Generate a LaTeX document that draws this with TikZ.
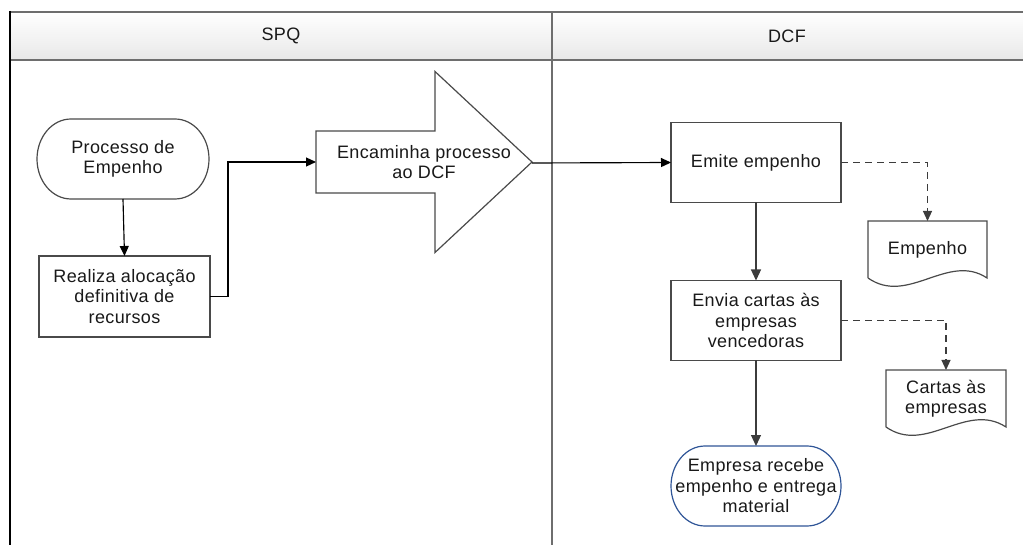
\documentclass[tikz,border=0pt]{standalone}
\usepackage{fontspec}
\setmainfont{Liberation Sans}[LetterSpace=2]
\usetikzlibrary{arrows.meta,calc}

\definecolor{boxline}{HTML}{4A4A4A}
\definecolor{flowline}{HTML}{3C3C3C}
\definecolor{termblue}{HTML}{2F5597}
\definecolor{lanegray}{HTML}{6E6E6E}

\tikzset{
  lbl/.style={font=\fontsize{18}{20.5}\selectfont, text=black!90, align=center, inner sep=0pt, outer sep=0pt},
  procbox/.style={lbl, draw=boxline, line width=1.2pt, minimum width=170pt, minimum height=80pt},
  termshape/.style={lbl, minimum width=172pt, minimum height=80pt},
  docshape/.style={lbl, minimum width=119pt, minimum height=57pt},
  flowL/.style={draw=black, line width=1.15pt, -{Triangle[length=10pt,width=9pt]}},
  flowR/.style={draw=flowline, line width=1.15pt, -{Triangle[length=11pt,width=10pt]}},
  dataflow/.style={draw=flowline, line width=1.15pt, dash pattern=on 7pt off 5pt, -{Triangle[length=10pt,width=9pt]}},
  outline/.style={line width=1.2pt}
}

\begin{document}
\begin{tikzpicture}[x=1pt, y=-1pt]
  \useasboundingbox (0,0) rectangle (1023,545);

  % lane headers
  \shade[top color=white, bottom color=black!9] (10,12) rectangle (1023,60);
  \node[lbl] (spq) at (281,36) {SPQ};
  \node[lbl] (dcf) at (787,36) {DCF};
  \draw[lanegray, line width=1.4pt] (10,12) -- (1023,12);
  \draw[lanegray, line width=1.4pt] (10,60) -- (1023,60);
  \draw[lanegray, line width=1.1pt] (552,12) -- (552,545);
  \draw[black, line width=2.6pt] (10,11) -- (10,545);

  % SPQ lane
  \node[termshape] (proc) at (123,159) {Processo de\\Empenho};
  \draw[boxline, outline]
    ([xshift=34pt]proc.north west) -- ([xshift=-34pt]proc.north east)
    arc[start angle=90, end angle=-90, x radius=34pt, y radius=40pt]
    -- ([xshift=34pt]proc.south west)
    arc[start angle=270, end angle=90, x radius=34pt, y radius=40pt] -- cycle;

  \node[procbox, minimum width=171pt, minimum height=81pt] (aloc) at (124.5,296.5)
    {Realiza alocação\\definitiva de\\recursos};

  % block arrow
  \node[lbl] (enc) at (424,162) {Encaminha processo\\ao DCF};
  \draw[boxline, outline, fill=white]
    ($(enc.center)+(-108,-31)$) -- ($(enc.center)+(11,-31)$)
    -- ($(enc.center)+(11,-90.5)$) -- ($(enc.center)+(108,0)$)
    -- ($(enc.center)+(11,90.5)$) -- ($(enc.center)+(11,31)$)
    -- ($(enc.center)+(-108,31)$) -- cycle;
  \node[lbl] at (enc.center) {Encaminha processo\\ao DCF};
  \coordinate (enctail) at ($(enc.center)+(-108,0)$);
  \coordinate (enctip) at ($(enc.center)+(108,1)$);

  % DCF lane
  \node[procbox] (emite) at (756,162.5) {Emite empenho};
  \node[procbox] (envia) at (756,320.5) {Envia cartas às\\empresas\\vencedoras};

  \node[termshape, minimum width=170pt] (empresa) at (756,486) {Empresa recebe\\empenho e entrega\\material};
  \draw[termblue, outline]
    ([xshift=34pt]empresa.north west) -- ([xshift=-34pt]empresa.north east)
    arc[start angle=90, end angle=-90, x radius=34pt, y radius=40pt]
    -- ([xshift=34pt]empresa.south west)
    arc[start angle=270, end angle=90, x radius=34pt, y radius=40pt] -- cycle;

  % documents
  \node[docshape] (empdoc) at (927.5,249.5) {Empenho};
  \draw[boxline, outline]
    (empdoc.south west) -- (empdoc.north west) -- (empdoc.north east) -- (empdoc.south east)
    .. controls ($(empdoc.south east)+(-39,-26)$) and ($(empdoc.south west)+(40,28)$) .. (empdoc.south west);

  \node[docshape, minimum width=120pt] (cartas) at (946,398.5) {Cartas às\\empresas};
  \draw[boxline, outline]
    (cartas.south west) -- (cartas.north west) -- (cartas.north east) -- (cartas.south east)
    .. controls ($(cartas.south east)+(-40,-26)$) and ($(cartas.south west)+(40,28)$) .. (cartas.south west);

  % connectors
  \draw[flowL] (proc.south) -- (aloc.north);
  \draw[flowL] (aloc.east) -- ++(18,0) |- (enctail);
  \draw[flowL] (enctip) -- (emite.west);
  \draw[flowR] (emite.south) -- (envia.north);
  \draw[flowR] (envia.south) -- (empresa.north);
  \draw[dataflow] (emite.east) -| (empdoc.north);
  \draw[dataflow] (envia.east) -| (cartas.north);
\end{tikzpicture}
\end{document}
